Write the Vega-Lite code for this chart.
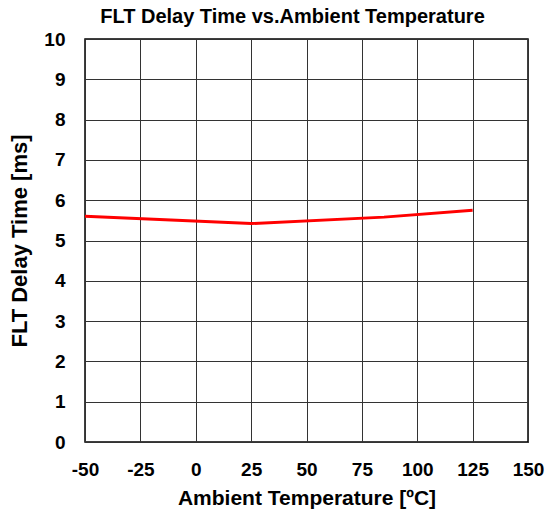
{
  "$schema": "https://vega.github.io/schema/vega-lite/v6.json",
  "width": 443,
  "height": 403,
  "autosize": {"type": "none"},
  "padding": {"left": 85, "top": 39, "right": 29, "bottom": 76},
  "background": "white",
  "title": {
    "text": "FLT Delay Time vs.Ambient Temperature",
    "font": "Liberation Sans",
    "fontSize": 20,
    "fontWeight": "bold",
    "color": "black",
    "anchor": "middle",
    "dx": -14,
    "offset": 3
  },
  "config": {
    "view": {"stroke": "black", "strokeWidth": 1.5},
    "axis": {
      "labelFont": "Liberation Sans",
      "labelFontSize": 19,
      "labelFontWeight": "bold",
      "labelColor": "black",
      "titleFont": "Liberation Sans",
      "titleFontWeight": "bold",
      "titleColor": "black",
      "gridColor": "#333333",
      "gridWidth": 1,
      "gridOpacity": 1,
      "ticks": false,
      "domain": false
    }
  },
  "data": {
    "values": [
      {"temp": -50, "delay": 5.6},
      {"temp": 25, "delay": 5.42},
      {"temp": 85, "delay": 5.58},
      {"temp": 125, "delay": 5.75}
    ]
  },
  "mark": {"type": "line", "color": "#ff0000", "strokeWidth": 3},
  "encoding": {
    "x": {
      "field": "temp",
      "type": "quantitative",
      "scale": {"domain": [-50, 150], "nice": false, "zero": false},
      "axis": {"values": [-50, -25, 0, 25, 50, 75, 100, 125, 150], "labelExpr": "datum.value + ''", "title": "Ambient Temperature [ºC]", "titleFontSize": 21, "labelPadding": 18, "titlePadding": 8, "labelFlush": false}
    },
    "y": {
      "field": "delay",
      "type": "quantitative",
      "scale": {"domain": [0, 10], "nice": false},
      "axis": {"values": [0, 1, 2, 3, 4, 5, 6, 7, 8, 9, 10], "title": "FLT Delay Time [ms]", "titleFontSize": 22, "labelPadding": 20, "titlePadding": 12, "labelFlush": false}
    }
  }
}
